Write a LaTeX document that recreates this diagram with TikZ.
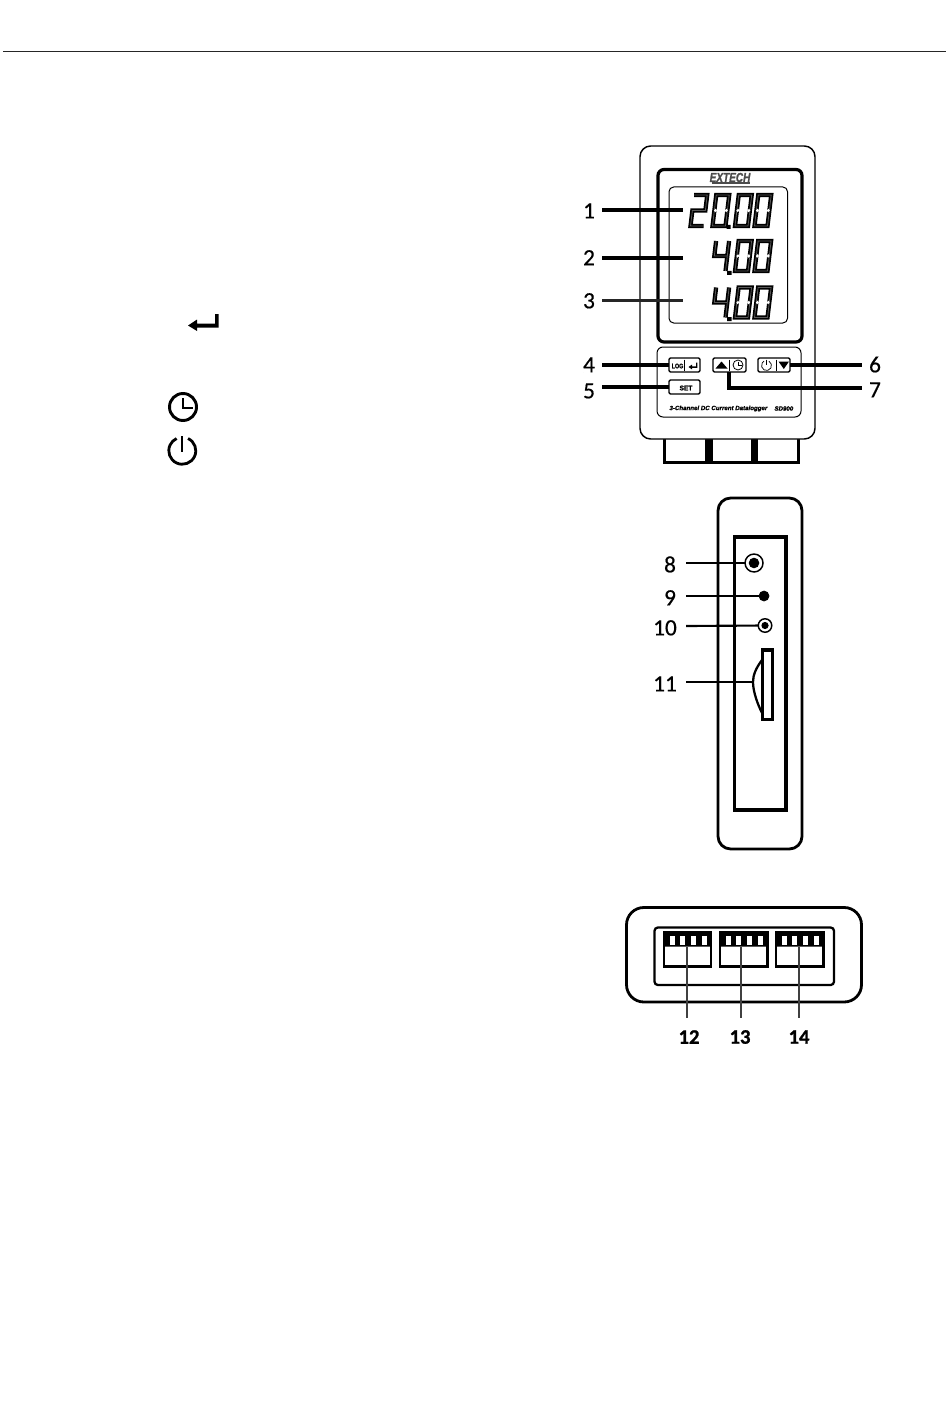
\documentclass[tikz,border=0pt]{standalone}
\usepackage{fontspec}
\setmainfont{Carlito}
\newfontfamily\hvf{Liberation Sans}
\newfontfamily\lblf[FakeBold=0.5]{Carlito}
\newfontfamily\lblbf[FakeBold=1]{Carlito Bold}
\newfontfamily\hvh[FakeBold=1.5]{Liberation Sans Bold}
\newfontfamily\hvi[FakeBold=1.5]{Liberation Sans Bold Italic}
\newcommand{\pu}{0.75pt}
\newcommand{\rr}[6][]{\node[shp,#1,minimum width={(#5-#3)*\pu},minimum height={(#6-#4)*\pu}] (#2) at ({(#3+#5)/2},{(#4+#6)/2}) {};}
\newcommand{\digzero}[3]{\begin{scope}[shift={(#1,#2)},xslant=0.12]
\draw[lcdb] (0,0) rectangle (13,-#3); \draw[lcdg] (0,0) rectangle (13,-#3);
\fill[white] (1,-#3/2-1.8) -- (2.6,-#3/2) -- (1,-#3/2+1.8) -- (-.4,-#3/2) -- cycle;
\fill[white] (12,-#3/2-1.8) -- (10.4,-#3/2) -- (12,-#3/2+1.8) -- (13.4,-#3/2) -- cycle;
\end{scope}}
\newcommand{\digtwo}[3]{\begin{scope}[shift={(#1,#2)},xslant=0.12]
\def\pth{(0,-#3)--(13,-#3)--(13,-#3/2)--(0,-#3/2)--(0,0)--(13,0)}
\draw[lcdb] \pth; \draw[lcdg] \pth;
\end{scope}}
\newcommand{\digfour}[3]{\begin{scope}[shift={(#1,#2)},xslant=0.12]
\def\pth{(0,-#3)--(0,-#3/2)--(13,-#3/2) (13,-#3)--(13,0)}
\draw[lcdb] \pth; \draw[lcdg] \pth;
\end{scope}}
\tikzset{
  x=0.75pt,y=-0.75pt,
  shp/.style={draw=black,fill=white,rectangle,inner sep=0pt,outer sep=0pt,line width=1pt},
  lcdb/.style={line width=3.2pt,black,line join=miter},
  lcdg/.style={line width=0.6pt,black!65,line join=miter},
  lbl/.style={inner sep=0pt,outer sep=0pt,font=\lblf\fontsize{17.5}{20}\selectfont,text height=11pt,text depth=0pt,minimum width=19.5pt},
  lblb/.style={inner sep=0pt,outer sep=0pt,font=\lblbf\fontsize{15.5}{18}\selectfont,minimum height=28.5pt},
  ldthick/.style={draw=black,line width=2.3pt},
  ldmid/.style={draw=black,line width=1.6pt},
  ldthin/.style={draw=black!75,line width=1pt},
  tinycap/.style={inner sep=0pt,outer sep=0pt,font=\hvi\fontsize{4.6}{5}\selectfont},
  btxt/.style={inner sep=0pt,outer sep=0pt,font=\hvh\fontsize{5}{5}\selectfont},
}
\begin{document}
\begin{tikzpicture}
\useasboundingbox (0,0) rectangle (950,1401);
\fill[white] (0,0) rectangle (950,1401);
% header rule
\coordinate (ruleL) at (3,51.5); \coordinate (ruleR) at (946,51.5);
\draw[black!85,line width=.85pt] (ruleL) -- (ruleR);
% left symbols
\fill[black] (215,314) -- (218.5,314) -- (218.5,327.5) -- (197,327.5) -- (197,331) -- (188,325.5) -- (197,319.5) -- (197,323.5) -- (215,323.5) -- cycle;
\coordinate (clk) at (183,407);
\draw[black,line width=2.2pt] (clk) circle[radius=13.5];
\draw[black,line width=1.7pt] (183,398) -- (183,408) -- (193,408);
\coordinate (pow) at (182,451);
\draw[black,line width=2.1pt] (188,438.5) arc[start angle=-65,end angle=245,radius=13.5,x=0.75pt,y=0.75pt];
\draw[black,line width=2.2pt] (182,436) -- (182,451.5);
% front view: feet
\rr[line width=2.4pt]{footA}{664.5}{430}{707}{462.5}
\rr[line width=2.4pt]{footB}{711}{430}{753}{462.5}
\rr[line width=2.4pt]{footC}{756}{430}{798.5}{462.5}
\rr[rounded corners=8pt,line width=1.1pt]{front}{640}{146}{815}{439}
\rr[rounded corners=4.5pt,line width=2.4pt]{bezel}{658}{169.5}{802}{342}
\rr[rounded corners=3.5pt,line width=.75pt]{lcd}{669}{187}{787.5}{323}
\node[inner sep=0pt,text=black!70] (logo) at (730,177.5) {\resizebox{30.5pt}{6.8pt}{\hvi EXTECH}};
\fill[black!70] (712,182.4) rectangle (750,184);
% LCD digits
\digtwo{690.5}{226}{31}\digzero{712.5}{226}{31}\digzero{735}{226}{31}\digzero{754.5}{226}{31}
\digfour{712.5}{271}{30}\digzero{735}{271}{30}\digzero{754.5}{271}{30}
\digfour{712.5}{317.5}{30}\digzero{735}{317.5}{30}\digzero{754.5}{317.5}{30}
\fill[black] (726.5,225) rectangle (730.5,229) (727,271) rectangle (731.5,275) (727,317) rectangle (731.5,321);
% keypad
\rr[rounded corners=4.5pt,line width=.75pt]{panel}{657}{347}{801}{417}
\rr[rounded corners=1pt]{blog}{669}{358}{700}{372}
\rr[rounded corners=1pt]{bset}{669}{380}{700}{394}
\rr[rounded corners=1pt]{bup}{713}{358}{746}{372}
\rr[rounded corners=1pt]{bpow}{758}{358}{790}{372}
\node[btxt] (tlog) at (677.5,366) {\scalebox{.8}[1]{LOG}};
\node[btxt] (tset) at (686,388) {SET};
\draw[line width=.8pt] (684.5,359.5) -- (684.5,370.5) (729.5,359.5) -- (729.5,370.5) (776.5,359.5) -- (776.5,370.5);
\fill[black] (692,366.3) -- (696,366.3) -- (696,362.5) -- (697.3,362.5) -- (697.3,367.8) -- (692,367.8) -- (692,369.4) -- (688.5,367) -- (692,364.6) -- cycle;
\fill[black] (715.5,368.5) -- (721.5,361.5) -- (727.5,368.5) -- cycle;
\draw[line width=.6pt] (738,365) circle[radius=5]; \draw[line width=.5pt] (738,361.5) -- (738,365.5) -- (741.5,365.5);
\draw[line width=.55pt] (769,361.2) arc[start angle=-60,end angle=240,radius=5,x=0.75pt,y=0.75pt]; \draw[line width=.55pt] (766.5,359.5) -- (766.5,365);
\fill[black] (778.5,361.5) -- (789,361.5) -- (783.8,369) -- cycle;
\node[tinycap,anchor=west] (cap) at (669.5,408.5) {3-Channel DC Current Datalogger};
\node[tinycap,anchor=west] (model) at (774.5,408.5) {SD900};
% labels front
\node[lbl] (l1) at (589,211) {1};
\node[lbl] (l2) at (589,258) {2};
\node[lbl] (l3) at (589,301) {3};
\node[lbl] (l4) at (589,365) {4};
\node[lbl] (l5) at (589,391) {5};
\node[lbl] (l6) at (875,365) {6};
\node[lbl] (l7) at (875,390) {7};
\coordinate (t1) at (683,210); \coordinate (t2) at (683,258); \coordinate (t3) at (683,300.5);
\coordinate (t7) at (729,388);
\draw[ldthick] (l1.east |- t1) -- (t1);
\draw[ldthick] (l2.east |- t2) -- (t2);
\draw[ldmid,black!85] (l3.east |- t3) -- (t3);
\draw[ldthick] (l4.east |- blog.west) -- (blog.west);
\draw[ldthick] (l5.east |- bset.west) -- (bset.west);
\draw[ldthick] (bpow.east) -- (l6.west |- bpow.east);
\draw[ldthick] (bup.south -| t7) -- (t7) -- (l7.west |- t7);
% side view
\rr[rounded corners=9.5pt,line width=2.1pt]{side}{718}{498}{802}{849}
\rr[line width=2.4pt]{bay}{734.5}{537}{786}{810}
\node[draw=black,fill=white,circle,line width=1.1pt,minimum size=18*\pu,inner sep=0pt,outer sep=0pt] (j8) at (754,563) {};
\fill[black] (j8) circle[radius=5.3];
\node[draw=black,fill=black,circle,line width=.5pt,minimum size=10*\pu,inner sep=0pt,outer sep=0pt] (j9) at (764,596) {};
\node[draw=black,fill=white,circle,line width=1.1pt,minimum size=13.5*\pu,inner sep=0pt,outer sep=0pt] (j10) at (765,625.5) {};
\fill[black] (j10) circle[radius=3.6];
\rr[line width=2.4pt]{slot}{762.5}{650}{772.5}{719.5}
\draw[black,line width=1.7pt] (762,660) .. controls (756,668) and (753,675) .. (753,682) .. controls (753,692) and (758,705) .. (762,713);
\coordinate (t11) at (753,682);
\node[lbl] (l8) at (670,565) {8};
\node[lbl] (l9) at (670,598) {9};
\node[lbl] (l10) at (665,628) {10};
\node[lbl] (l11) at (665,684) {11};
\coordinate (s8) at (686,563); \coordinate (s9) at (686,596); \coordinate (s10) at (686,626); \coordinate (s11) at (686,682);
\draw[ldmid] (s8) -- (j8);
\draw[ldmid] (s9) -- (j9);
\draw[ldmid] (s10) -- (j10);
\draw[ldmid] (s11) -- (t11);
% rear view
\rr[rounded corners=13pt,line width=2.1pt]{rear}{626.5}{907.5}{861.5}{1002}
\rr[rounded corners=2.5pt,line width=1.7pt]{well}{654.5}{927.5}{834}{985}
\rr[line width=1.7pt]{c12}{664}{932}{711}{966.5}
\rr[line width=1.7pt]{c13}{720}{932}{767.5}{966.5}
\rr[line width=1.7pt]{c14}{776}{932}{823.5}{966.5}
\fill[black] (664,932) rectangle (711,946.5) (720,932) rectangle (767.5,946.5) (776,932) rectangle (823.5,946.5);
\foreach \a in {670,680,691,701.5, 726,736,746.5,757.5, 782,792,802.5,813.5} {\fill[white] (\a,936) rectangle (\a+5,945);}
\node[lblb] (l12) at (689,1037) {12};
\node[lblb] (l13) at (740,1037) {13};
\node[lblb] (l14) at (799,1037) {14};
\coordinate (t12) at (687,947); \coordinate (t13) at (741,947); \coordinate (t14) at (799,947);
\draw[ldthin] (t12) -- (t12 |- l12.north);
\draw[ldthin] (t13) -- (t13 |- l13.north);
\draw[ldthin] (t14) -- (t14 |- l14.north);
\end{tikzpicture}
\end{document}
